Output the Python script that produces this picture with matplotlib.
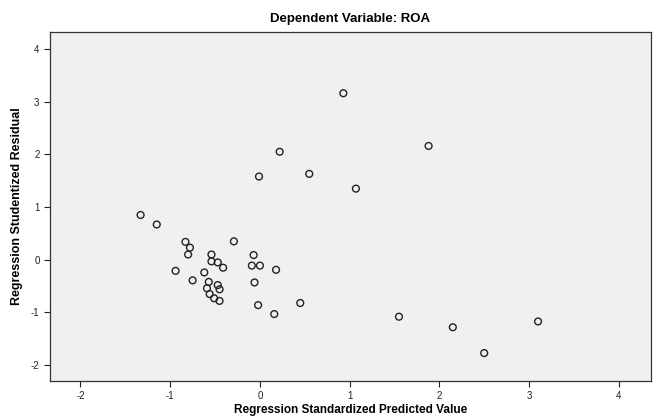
import matplotlib
matplotlib.use("Agg")
import matplotlib.pyplot as plt

# Scatterplot de residuos (lectura aproximada del grafico original)
pred_std = [-1.33, -1.15, -0.83, -0.78, -0.80, -0.29, -0.54, -0.54, -0.47, -0.41,
            -0.07, -0.09, 0.00, 0.18, -0.94, -0.62, -0.75, -0.57, -0.47, -0.45,
            -0.59, -0.56, -0.51, -0.45, -0.06, 0.45, -0.02, 0.16,
            0.93, 0.22, 1.88, -0.01, 0.55, 1.07,
            1.55, 2.15, 3.10, 2.50]
resid_stud = [0.85, 0.67, 0.34, 0.23, 0.10, 0.35, 0.10, -0.03, -0.05, -0.15,
              0.09, -0.11, -0.11, -0.19, -0.21, -0.24, -0.39, -0.42, -0.48, -0.56,
              -0.54, -0.65, -0.73, -0.78, -0.43, -0.82, -0.86, -1.03,
              3.16, 2.05, 2.16, 1.58, 1.63, 1.35,
              -1.08, -1.28, -1.17, -1.77]
x_ticks = [-2, -1, 0, 1, 2, 3, 4]
y_ticks = [-2, -1, 0, 1, 2, 3, 4]

plt.rcParams['font.family'] = ['Liberation Sans', 'DejaVu Sans']
plt.rcParams['axes.unicode_minus'] = False

fig = plt.figure(figsize=(6.61, 4.17), dpi=100)
ax = fig.add_axes([0.0756, 0.0863, 0.9094, 0.8367])
ax.set_facecolor('#f0f0f0')

ax.scatter(pred_std, resid_stud, s=24, facecolors='none', edgecolors='#222222', linewidths=1.0)

ax.set_xlim(-2.34, 4.36)
ax.set_ylim(-2.3, 4.32)
ax.set_xticks(x_ticks)
ax.set_yticks(y_ticks)
ax.tick_params(labelsize=7, length=4, width=0.8, colors='#222222')
for s in ax.spines.values():
    s.set_color('#333333')
    s.set_linewidth(0.9)

ax.set_title('Dependent Variable: ROA', fontsize=9.5, fontweight='bold', pad=7)
ax.set_ylabel('Regression Studentized Residual', fontsize=9, fontweight='bold', labelpad=6)
ax.set_xlabel('Regression Standardized Predicted Value', fontsize=8.5, fontweight='bold', labelpad=2)

fig.savefig('out.png', dpi=100)
plt.close(fig)
